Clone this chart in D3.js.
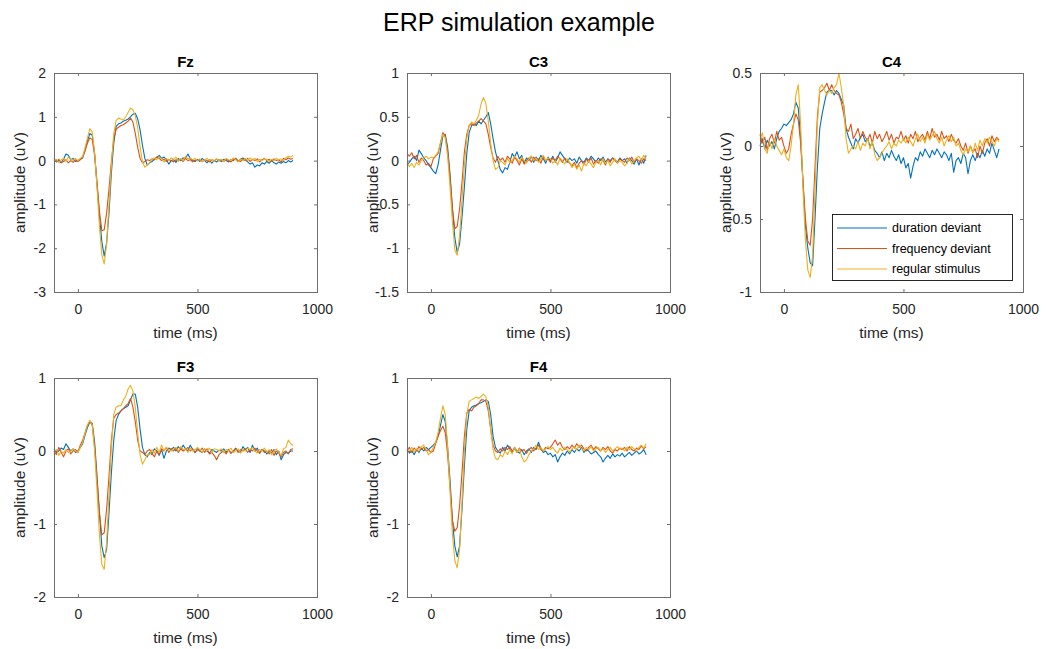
<!DOCTYPE html>
<html>
<head>
<meta charset="utf-8">
<script src="https://cdn.jsdelivr.net/npm/d3@7"></script>
<style>
  body { margin: 0; background: #fff; }
  svg { font-family: "Liberation Sans", Arial, sans-serif; }
  .tick text { fill: #262626; font-size: 14px; }
</style>
</head>
<body>
<div id="chart"></div>
<script>
// time axis (ms), one sample every 10 ms
var times = [-100,-90,-80,-70,-60,-50,-40,-30,-20,-10,
  0,10,20,30,40,50,60,70,80,90,
  100,110,120,130,140,150,160,170,180,190,
  200,210,220,230,240,250,260,270,280,290,
  300,310,320,330,340,350,360,370,380,390,
  400,410,420,430,440,450,460,470,480,490,
  500,510,520,530,540,550,560,570,580,590,
  600,610,620,630,640,650,660,670,680,690,
  700,710,720,730,740,750,760,770,780,790,
  800,810,820,830,840,850,860,870,880,890,
  900];

var seriesNames = ["duration deviant", "frequency deviant", "regular stimulus"];
var seriesColors = ["#0072BD", "#D95319", "#EDB120"];

// Fz
var fzDuration = [0.02,-0.03,0.00,-0.05,0.03,0.15,0.12,0.02,0.05,-0.02,
  0.00,0.03,0.06,0.25,0.45,0.62,0.58,0.15,-0.55,-1.25,
  -1.85,-2.18,-1.88,-1.2,-0.28,0.4,0.78,0.84,0.86,0.9,
  0.92,0.95,1.0,1.06,1.08,0.95,0.7,0.35,0.05,-0.1,
  -0.05,-0.02,0.03,0.08,0.12,0.05,0.08,0.02,-0.08,0.0,
  0.02,-0.04,0.05,0.0,0.06,0.05,0.15,0.04,0.0,-0.02,
  0.03,-0.02,0.05,0.0,-0.05,0.02,-0.06,0.0,-0.03,0.02,
  -0.02,0.03,0.0,-0.03,0.02,0.0,0.05,-0.02,0.03,0.06,
  0.02,-0.03,-0.08,-0.05,-0.15,-0.1,-0.12,-0.05,-0.08,-0.02,
  -0.06,0.0,-0.05,-0.08,-0.03,-0.06,-0.02,-0.05,0.0,-0.03,
  0.0];
var fzFrequency = [0.05,-0.02,0.03,-0.05,-0.02,0.02,-0.05,0.0,-0.04,0.02,
  -0.02,0.02,0.08,0.22,0.4,0.52,0.48,0.12,-0.5,-1.15,
  -1.6,-1.58,-1.2,-0.65,-0.02,0.5,0.72,0.76,0.8,0.82,
  0.86,0.9,0.97,0.88,0.62,0.3,0.05,-0.05,-0.02,0.02,
  0.0,0.04,0.02,0.08,0.05,0.0,0.03,-0.02,0.02,0.0,
  -0.03,0.02,0.0,0.03,-0.02,0.05,0.0,0.02,-0.03,0.01,
  0.0,0.03,-0.02,0.02,0.0,-0.03,0.02,0.0,0.04,-0.01,
  0.02,-0.02,0.03,0.0,-0.03,0.02,0.05,0.0,-0.02,0.03,
  0.0,0.05,-0.02,0.03,0.0,0.04,-0.03,0.02,0.05,0.0,
  0.03,-0.02,0.04,0.0,0.02,-0.03,0.05,0.02,0.06,0.03,
  0.05];
var fzRegular = [-0.03,0.03,-0.05,0.02,0.05,-0.02,0.08,0.03,0.0,0.05,
  0.0,0.05,0.1,0.3,0.52,0.73,0.65,0.18,-0.62,-1.5,
  -2.15,-2.36,-1.9,-1.0,-0.1,0.62,0.92,0.97,0.95,0.92,
  1.0,1.1,1.2,1.16,1.02,0.75,0.32,-0.03,-0.15,-0.1,
  -0.05,0.03,0.06,0.02,0.08,0.04,-0.03,0.05,0.0,0.06,
  0.03,0.08,-0.02,0.05,0.0,0.1,0.04,0.06,0.02,0.05,
  0.0,0.04,-0.03,0.02,0.05,0.0,0.03,-0.02,0.04,0.0,
  0.03,-0.02,0.05,0.02,0.0,0.06,0.02,-0.03,0.04,0.0,
  0.05,0.0,0.06,0.02,0.05,-0.02,0.03,0.0,0.04,0.02,
  -0.02,0.03,0.0,0.05,0.02,0.04,0.0,0.06,0.1,0.08,
  0.12];

// C3
var c3Duration = [-0.05,-0.02,0.02,0.05,0.0,0.12,0.08,0.03,0.0,-0.05,
  -0.08,-0.12,-0.15,-0.05,0.12,0.28,0.3,0.15,-0.15,-0.55,
  -0.88,-1.05,-0.95,-0.65,-0.3,0.08,0.32,0.4,0.42,0.4,
  0.45,0.42,0.46,0.5,0.55,0.42,0.25,0.1,0.0,-0.1,
  -0.14,-0.08,-0.1,-0.02,0.08,0.04,0.1,0.02,0.06,-0.03,
  0.03,0.0,0.05,-0.02,0.04,0.0,0.06,0.02,-0.03,0.04,
  0.0,0.05,-0.02,0.03,0.1,0.06,0.02,-0.02,0.03,0.0,
  0.02,-0.03,0.04,0.0,-0.02,0.03,0.0,0.05,0.02,-0.02,
  0.03,0.0,0.04,-0.02,0.02,0.0,0.03,0.01,-0.02,0.03,
  0.0,0.02,-0.03,0.03,0.0,-0.04,0.02,-0.05,0.02,-0.03,
  0.06];
var c3Frequency = [0.08,0.05,0.09,0.02,0.06,-0.02,0.03,0.0,-0.05,-0.03,
  -0.07,0.02,0.05,0.08,0.2,0.32,0.28,0.1,-0.2,-0.55,
  -0.78,-0.75,-0.55,-0.25,0.1,0.3,0.4,0.42,0.4,0.43,
  0.45,0.48,0.45,0.42,0.3,0.15,0.03,-0.02,0.05,0.0,
  0.03,-0.02,0.05,0.02,-0.03,0.04,0.0,-0.05,0.02,-0.04,
  0.0,0.03,-0.02,0.04,0.0,0.02,-0.03,0.05,0.0,0.02,
  -0.02,0.03,0.0,0.05,0.02,-0.02,0.03,0.0,-0.03,-0.06,
  -0.02,-0.08,-0.03,0.0,-0.05,0.02,-0.02,0.03,-0.04,0.0,
  -0.03,0.02,0.0,-0.05,0.02,-0.02,0.03,0.0,-0.03,0.02,
  0.0,-0.02,0.03,0.0,0.04,-0.02,0.02,0.0,-0.03,0.02,
  0.0];
var c3Regular = [-0.02,-0.07,-0.03,-0.08,-0.02,-0.05,0.0,0.03,0.05,0.02,
  0.04,0.03,0.06,0.1,0.2,0.3,0.26,0.05,-0.3,-0.7,
  -1.02,-1.08,-0.85,-0.45,-0.05,0.25,0.4,0.44,0.42,0.46,
  0.52,0.65,0.72,0.65,0.45,0.2,0.0,-0.1,-0.08,0.0,
  -0.02,-0.05,0.03,-0.03,0.0,0.05,0.02,-0.02,0.04,0.0,
  -0.03,0.02,0.05,0.0,0.03,-0.02,0.02,0.06,0.0,0.03,
  0.02,-0.03,0.0,-0.05,0.03,0.0,-0.04,0.02,-0.02,-0.08,
  -0.04,-0.1,-0.05,-0.12,-0.03,-0.06,0.0,-0.04,-0.08,-0.02,
  0.0,-0.05,0.02,-0.03,0.0,-0.06,-0.02,0.02,-0.03,0.0,
  -0.02,-0.06,-0.03,0.02,-0.04,0.0,0.03,0.05,0.0,0.06,
  0.02];

// C4
var c4Duration = [0.0,0.05,-0.02,0.04,0.0,0.03,-0.02,0.05,0.1,0.12,
  0.15,0.14,0.16,0.18,0.22,0.3,0.26,0.05,-0.25,-0.55,
  -0.7,-0.8,-0.82,-0.5,-0.15,0.12,0.22,0.3,0.37,0.38,
  0.38,0.35,0.38,0.36,0.32,0.28,0.12,0.06,0.02,-0.02,
  0.05,0.02,0.06,0.08,0.03,0.05,0.0,0.02,-0.03,-0.05,
  -0.08,-0.04,-0.1,-0.05,-0.08,-0.03,-0.07,-0.1,-0.06,-0.12,
  -0.08,-0.15,-0.12,-0.22,-0.14,-0.08,-0.1,-0.04,-0.07,-0.02,
  -0.05,-0.08,-0.03,-0.06,-0.02,-0.05,-0.08,-0.04,-0.06,-0.1,
  -0.05,-0.18,-0.1,-0.08,-0.12,-0.05,-0.08,-0.19,-0.1,-0.06,
  -0.1,-0.05,-0.08,-0.03,-0.07,-0.02,-0.05,0.02,-0.03,-0.08,
  -0.02];
var c4Frequency = [0.08,0.02,0.06,-0.03,0.05,0.08,0.02,0.1,0.04,0.06,
  0.0,-0.05,-0.02,0.08,0.15,0.22,0.18,0.02,-0.25,-0.5,
  -0.65,-0.68,-0.5,-0.15,0.2,0.37,0.38,0.4,0.43,0.38,
  0.42,0.38,0.36,0.35,0.3,0.22,0.12,0.1,0.15,0.05,
  0.08,0.12,0.05,0.1,0.06,0.04,0.08,0.02,0.1,0.05,
  0.08,0.03,0.06,0.1,0.04,0.08,0.02,0.06,0.05,0.1,
  0.04,0.07,0.02,0.08,0.05,0.1,0.03,0.06,0.08,0.04,
  0.1,0.05,0.12,0.06,0.08,0.04,0.1,0.05,0.07,0.03,
  0.08,0.04,0.02,0.05,0.0,-0.03,0.02,-0.05,0.0,-0.04,
  -0.02,-0.08,0.0,-0.05,0.02,0.05,0.0,0.07,0.03,0.06,
  0.04];
var c4Regular = [0.05,0.09,-0.02,-0.05,0.03,-0.02,0.05,0.0,-0.03,-0.06,
  -0.02,-0.08,-0.1,0.0,0.15,0.35,0.42,0.15,-0.3,-0.65,
  -0.85,-0.9,-0.75,-0.3,0.15,0.4,0.42,0.38,0.35,0.38,
  0.36,0.4,0.42,0.5,0.4,0.28,0.05,-0.05,-0.02,0.0,
  -0.02,0.03,-0.03,0.02,0.0,0.05,-0.02,0.03,-0.06,-0.1,
  -0.08,-0.05,-0.02,0.0,0.03,-0.02,0.02,0.0,0.04,0.02,
  0.05,0.02,0.06,0.03,0.0,0.05,0.08,0.03,0.06,0.02,
  0.08,0.04,0.07,0.1,0.05,0.02,0.06,0.0,0.04,0.07,
  0.03,0.06,0.0,0.02,-0.03,-0.06,-0.02,-0.04,0.0,-0.05,
  0.02,-0.03,0.04,0.0,0.05,0.02,0.06,0.03,0.0,0.05,
  0.03];

// F3
var f3Duration = [0.03,-0.02,0.0,0.04,0.02,0.1,0.05,0.0,0.03,-0.02,
  0.0,0.05,0.1,0.22,0.32,0.4,0.38,0.12,-0.35,-0.85,
  -1.3,-1.46,-1.35,-0.85,-0.3,0.15,0.42,0.5,0.55,0.58,
  0.6,0.62,0.7,0.78,0.78,0.6,0.3,0.05,-0.05,-0.08,
  -0.02,-0.05,0.03,0.0,-0.06,0.02,-0.1,0.0,0.04,0.02,
  0.05,0.0,0.06,0.02,0.08,0.03,0.0,0.08,0.02,-0.02,
  0.03,0.0,-0.02,0.03,0.0,-0.03,0.02,0.0,-0.02,0.01,
  0.0,0.03,-0.02,0.02,-0.03,0.0,0.04,0.0,-0.02,0.06,
  0.02,0.05,-0.02,0.08,0.0,0.04,-0.03,0.02,0.0,-0.04,
  0.0,-0.03,0.02,-0.05,0.0,-0.12,-0.05,-0.02,-0.03,0.0,
  0.0];
var f3Frequency = [0.0,-0.05,0.05,-0.02,-0.08,0.0,0.03,-0.04,0.0,0.02,
  -0.02,0.08,0.15,0.25,0.35,0.4,0.35,0.05,-0.4,-0.85,
  -1.15,-1.12,-0.8,-0.35,0.15,0.45,0.5,0.52,0.55,0.58,
  0.62,0.65,0.72,0.6,0.4,0.15,0.0,-0.02,-0.05,0.0,
  0.02,-0.03,-0.08,0.0,-0.05,0.03,0.0,0.05,-0.02,0.03,
  0.0,0.04,-0.02,0.03,0.0,0.02,0.05,0.0,0.03,-0.02,
  0.02,0.0,0.04,-0.02,0.03,-0.04,-0.02,-0.06,-0.12,-0.05,
  -0.02,0.0,-0.04,0.02,-0.03,0.0,0.03,-0.02,0.02,0.0,
  0.03,-0.02,0.02,0.0,0.04,0.0,-0.03,0.02,-0.02,0.0,
  -0.04,0.02,-0.06,0.0,-0.03,-0.08,-0.02,0.0,-0.04,0.02,
  0.03];
var f3Regular = [-0.03,0.02,-0.06,0.0,-0.03,0.02,-0.02,0.0,0.03,0.0,
  -0.02,0.05,0.12,0.25,0.36,0.42,0.36,0.0,-0.55,-1.15,
  -1.55,-1.62,-1.25,-0.6,0.05,0.5,0.6,0.62,0.62,0.7,
  0.75,0.85,0.9,0.82,0.6,0.25,-0.05,-0.18,-0.12,-0.05,
  -0.05,0.02,-0.03,0.05,-0.02,0.08,0.0,0.05,0.02,0.0,
  0.03,0.05,0.0,0.06,0.02,0.03,-0.02,0.04,0.0,0.02,
  0.05,0.02,-0.02,0.03,0.0,0.04,-0.02,0.03,0.02,0.0,
  0.03,-0.02,0.02,0.0,0.04,-0.02,0.0,0.03,-0.03,0.02,
  0.0,0.04,0.02,0.05,0.0,-0.03,0.02,0.0,0.04,-0.02,
  0.02,-0.05,0.0,0.03,-0.02,-0.06,0.03,0.05,0.15,0.1,
  0.08];

// F4
var f4Duration = [0.02,-0.03,0.0,-0.05,0.02,-0.02,0.04,0.0,0.05,0.02,
  0.05,0.08,0.12,0.2,0.35,0.5,0.4,0.05,-0.4,-0.95,
  -1.3,-1.45,-1.3,-0.8,-0.2,0.3,0.55,0.6,0.62,0.63,
  0.65,0.66,0.68,0.7,0.68,0.5,0.2,0.05,0.0,-0.03,
  0.05,0.0,0.08,0.03,-0.02,0.05,0.0,-0.03,0.02,-0.05,
  0.0,0.03,-0.02,0.05,0.02,0.12,0.03,-0.02,0.0,-0.05,
  -0.03,-0.08,-0.05,-0.15,-0.08,-0.03,-0.06,0.0,-0.04,0.02,
  -0.02,0.03,0.0,0.05,-0.02,0.02,0.0,-0.04,-0.02,0.0,
  -0.05,-0.08,-0.15,-0.1,-0.06,-0.1,-0.04,-0.08,-0.05,-0.07,
  -0.03,-0.08,-0.05,-0.02,-0.06,-0.03,0.0,-0.04,-0.02,0.02,
  -0.05];
var f4Frequency = [0.0,0.05,-0.02,0.04,0.0,0.06,0.02,0.05,0.0,0.02,
  -0.02,0.0,0.1,0.2,0.28,0.34,0.25,-0.05,-0.5,-0.95,
  -1.1,-1.05,-0.75,-0.3,0.2,0.52,0.57,0.55,0.6,0.62,
  0.65,0.7,0.7,0.68,0.55,0.3,0.08,0.0,-0.02,0.03,
  0.0,0.05,0.02,0.06,0.0,0.03,-0.02,0.04,0.0,0.02,
  -0.03,0.02,0.05,0.0,0.04,0.08,0.02,0.0,0.05,0.03,
  0.05,0.1,0.15,0.08,0.12,0.05,0.02,0.06,0.03,0.08,
  0.04,0.1,0.05,0.08,0.03,0.0,0.05,0.08,0.02,0.06,
  0.03,0.0,0.05,0.02,0.06,0.0,-0.03,0.02,0.0,0.04,
  0.02,0.05,0.0,0.06,0.02,0.0,0.04,0.02,0.07,0.03,
  0.06];
var f4Regular = [-0.03,0.0,0.05,-0.02,0.03,0.0,0.06,0.08,0.02,-0.05,
  -0.02,0.05,0.12,0.25,0.45,0.62,0.5,0.05,-0.55,-1.15,
  -1.5,-1.6,-1.35,-0.7,0.0,0.5,0.68,0.7,0.72,0.74,
  0.72,0.75,0.78,0.74,0.6,0.3,0.02,-0.1,-0.12,-0.05,
  -0.08,0.0,-0.05,0.02,-0.04,0.05,-0.02,0.03,-0.08,-0.15,
  -0.12,-0.05,0.0,0.03,0.08,0.02,0.05,0.0,0.03,0.06,
  0.02,0.05,0.0,-0.03,0.04,0.0,0.05,0.02,-0.02,0.03,
  0.06,0.02,0.08,0.03,0.0,0.05,0.02,0.06,0.0,0.03,
  0.05,0.0,0.03,-0.02,0.02,0.05,0.0,0.03,0.06,0.02,
  0.04,0.0,0.05,0.02,0.06,0.03,0.0,0.05,0.08,0.04,
  0.1];

var xTicks = [0, 500, 1000];

var panels = [
  { title: "Fz", col: 0, row: 0, yDomain: [-3, 2], yTicks: [-3, -2, -1, 0, 1, 2], series: [fzDuration, fzFrequency, fzRegular] },
  { title: "C3", col: 1, row: 0, yDomain: [-1.5, 1], yTicks: [-1.5, -1, -0.5, 0, 0.5, 1], series: [c3Duration, c3Frequency, c3Regular] },
  { title: "C4", col: 2, row: 0, yDomain: [-1, 0.5], yTicks: [-1, -0.5, 0, 0.5], series: [c4Duration, c4Frequency, c4Regular], legend: true },
  { title: "F3", col: 0, row: 1, yDomain: [-2, 1], yTicks: [-2, -1, 0, 1], series: [f3Duration, f3Frequency, f3Regular] },
  { title: "F4", col: 1, row: 1, yDomain: [-2, 1], yTicks: [-2, -1, 0, 1], series: [f4Duration, f4Frequency, f4Regular] }
];

var width = 1046, height = 649;
var colLeft = [54, 407, 760];
var rowTop = [73, 378];
var pw = 263, ph = 219;
var axisColor = "#262626";
var boxColor = "#6e6e6e";

var svg = d3.select("#chart").append("svg")
    .attr("width", width)
    .attr("height", height);

svg.append("text")
    .attr("x", 519)
    .attr("y", 31)
    .attr("text-anchor", "middle")
    .style("font-size", "25px")
    .style("fill", "#000")
    .text("ERP simulation example");

panels.forEach(function(p) {
  var left = colLeft[p.col], top = rowTop[p.row];

  var x = d3.scaleLinear().domain([-100, 1000]).range([0, pw]);
  var y = d3.scaleLinear().domain(p.yDomain).range([ph, 0]);

  var g = svg.append("g").attr("transform", "translate(" + left + "," + top + ")");

  // lines
  var line = d3.line()
      .x(function(d, i) { return x(times[i]); })
      .y(function(d) { return y(d); });

  p.series.forEach(function(s, k) {
    g.append("path")
        .datum(s)
        .attr("d", line)
        .attr("fill", "none")
        .attr("stroke", seriesColors[k])
        .attr("stroke-width", 1.1)
        .attr("stroke-linejoin", "round");
  });

  // axes, ticks pointing inward (box style)
  var fmt = function(d) { return d; };
  g.append("g")
      .attr("transform", "translate(0," + ph + ")")
      .call(d3.axisBottom(x).tickValues(xTicks).tickSizeInner(-3).tickSizeOuter(0).tickPadding(12).tickFormat(fmt));
  g.append("g")
      .call(d3.axisTop(x).tickValues(xTicks).tickSizeInner(-3).tickSizeOuter(0).tickFormat(""));
  g.append("g")
      .call(d3.axisLeft(y).tickValues(p.yTicks).tickSizeInner(-3).tickSizeOuter(0).tickPadding(8).tickFormat(fmt));
  g.append("g")
      .attr("transform", "translate(" + pw + ",0)")
      .call(d3.axisRight(y).tickValues(p.yTicks).tickSizeInner(-3).tickSizeOuter(0).tickFormat(""));

  g.selectAll(".domain").remove();
  g.selectAll(".tick line").attr("stroke", boxColor);

  g.append("rect")
      .attr("width", pw)
      .attr("height", ph)
      .attr("fill", "none")
      .attr("stroke", boxColor)
      .attr("stroke-width", 1)
      .attr("shape-rendering", "crispEdges");

  // titles
  g.append("text")
      .attr("x", pw / 2)
      .attr("y", -6)
      .attr("text-anchor", "middle")
      .style("font-size", "15px")
      .style("font-weight", "bold")
      .text(p.title);

  g.append("text")
      .attr("x", pw / 2)
      .attr("y", ph + 46)
      .attr("text-anchor", "middle")
      .style("font-size", "15.5px")
      .style("fill", "#262626")
      .text("time (ms)");

  g.append("text")
      .attr("transform", "translate(" + (-29) + "," + (ph / 2) + ") rotate(-90)")
      .attr("text-anchor", "middle")
      .style("font-size", "15.5px")
      .style("fill", "#262626")
      .text("amplitude (uV)");

  if (p.legend) {
    var lg = g.append("g").attr("transform", "translate(" + (pw - 191) + "," + (ph - 78) + ")");
    lg.append("rect")
        .attr("width", 180)
        .attr("height", 66)
        .attr("fill", "#fff")
        .attr("stroke", axisColor)
        .attr("shape-rendering", "crispEdges");
    seriesNames.forEach(function(name, k) {
      var yy = 14 + k * 20.5;
      lg.append("line")
          .attr("x1", 5).attr("x2", 55)
          .attr("y1", yy).attr("y2", yy)
          .attr("stroke", seriesColors[k])
          .attr("stroke-width", 1);
      lg.append("text")
          .attr("x", 60)
          .attr("y", yy + 4)
          .style("font-size", "12.5px")
          .style("fill", "#000")
          .text(name);
    });
  }
});
</script>
</body>
</html>
